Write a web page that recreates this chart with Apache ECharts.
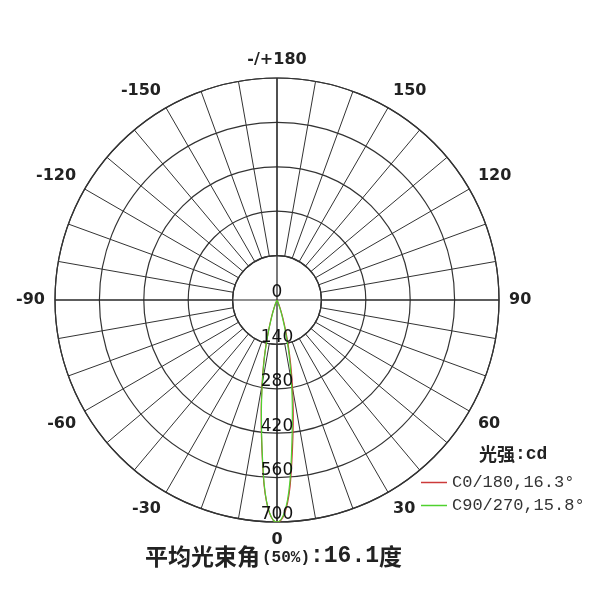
<!DOCTYPE html>
<html><head><meta charset="utf-8">
<script src="https://cdn.jsdelivr.net/npm/echarts@6/dist/echarts.min.js"></script>
<style>html,body{margin:0;padding:0;background:#fff}#c{width:600px;height:600px}</style>
</head><body><div id="c"></div>
<script>
// ---- data ----
const angleTickValues = [-180,-150,-120,-90,-60,-30,0,30,60,90,120,150,180];
const angleTickLabels = ['-/+180','-150','-120','-90','-60','-30','0','30','60','90','120','150','-/+180'];
const radialTicks = [0,140,280,420,560,700];
const gamma = [0,1,2,3,4,5,6,7,8,9,10,11,12,13,14,15,16,18,20,22,25,28];
const c0   = [700,695,675,640,590,527,468,416,368,323,281,243,208,175,145,118,95,60,34,16,4,0];
const c180 = [700,694,673,636,585,520,460,407,358,313,272,234,201,168,138,111,88,54,29,13,3,0];
const c90  = [700,693,670,632,578,512,450,396,348,303,261,224,191,159,129,103,80,47,24,10,2,0];
const c270 = [700,694,671,634,581,516,455,401,353,308,266,229,196,164,134,107,84,50,26,11,2,0];
const seriesNames = ['C0/180,16.3°','C90/270,15.8°'];
const unitLabel = ['光强', ':cd'];
const titleParts = ['平均光束角','(50%)',':16.1','度'];

function buildCurve(pos, neg){
  const out = [];
  for (let i = gamma.length-1; i >= 1; i--) out.push([neg[i], -gamma[i]]);
  for (let i = 0; i < gamma.length; i++) out.push([pos[i], gamma[i]]);
  return out;
}

const chart = echarts.init(document.getElementById('c'), null, {renderer:'canvas'});
const CENTER = [277, 300], R = 222;
const gridColor = '#333';

chart.setOption({
  animation: false,
  backgroundColor: '#fff',
  title: {
    text: `{a|${titleParts[0]}}{b|${titleParts[1]}}{c|${titleParts[2]}}{a|${titleParts[3]}}`,
    left: 140, top: 540,
    textStyle: { rich: {
      a: {fontFamily:'Noto Sans CJK SC', fontSize:23, fontWeight:'bold', color:'#222'},
      b: {fontFamily:'Liberation Mono', fontSize:16, fontWeight:'bold', color:'#222', padding:[3,0,0,2]},
      c: {fontFamily:'Liberation Mono', fontSize:23, fontWeight:'bold', color:'#222'}
    }}
  },
  legend: {
    data: seriesNames, orient: 'vertical', left: 416, top: 469,
    icon: 'rect', itemWidth: 26, itemHeight: 1.5, itemGap: 6,
    textStyle: {fontFamily:'Liberation Mono', fontSize:17, color:'#333'}
  },
  graphic: [{
    type: 'text', left: 479, top: 445,
    style: { text: `{a|${unitLabel[0]}}{b|${unitLabel[1]}}`, rich: {
      a: {fontFamily:'Noto Sans CJK SC', fontSize:18, fontWeight:'bold', fill:'#222'},
      b: {fontFamily:'Liberation Mono', fontSize:18, fontWeight:'bold', fill:'#222'}
    }}
  }],
  polar: [
    {center: CENTER, radius: [R/5, R]},
    {center: CENTER, radius: [0, R]}
  ],
  angleAxis: [{
    polarIndex: 0, type: 'value', min: -180, max: 180, interval: 10,
    startAngle: 90, clockwise: false,
    axisLine: {show: true, lineStyle: {color: gridColor, width: 1.2}},
    axisTick: {show: false},
    axisLabel: {show: true, interval: 0, margin: 10,
      fontFamily: 'DejaVu Sans', fontSize: 16, fontWeight: 'bold', color: '#222',
      formatter: v => { const i = angleTickValues.indexOf(Math.round(v)); return i >= 0 ? angleTickLabels[i] : ''; }},
    splitLine: {show: true, lineStyle: {color: gridColor, width: 1}}
  },{
    polarIndex: 1, type: 'value', min: -180, max: 180, interval: 90,
    startAngle: 90, clockwise: false,
    axisLine: {show: false}, axisTick: {show: false}, axisLabel: {show: false},
    splitLine: {show: true, lineStyle: {color: '#222', width: 1.2}}
  }],
  radiusAxis: [{
    polarIndex: 0, type: 'value', min: radialTicks[1], max: radialTicks[radialTicks.length-1], interval: 140,
    axisLine: {show: false}, axisTick: {show: false}, axisLabel: {show: false},
    splitLine: {show: true, lineStyle: {color: gridColor, width: 1.2}}
  },{
    polarIndex: 1, type: 'value', min: 0, max: radialTicks[radialTicks.length-1],
    axisLine: {show: false}, axisTick: {show: false}, axisLabel: {show: false},
    splitLine: {show: false}
  }],
  series: [{
    name: seriesNames[0], type: 'line', coordinateSystem: 'polar', polarIndex: 1,
    data: buildCurve(c0, c180), symbol: 'none', smooth: 0.3,
    lineStyle: {color: '#cc3a3a', width: 1.2}, itemStyle: {color: '#cc3a3a'}, z: 3
  },{
    name: seriesNames[1], type: 'line', coordinateSystem: 'polar', polarIndex: 1,
    data: buildCurve(c90, c270), symbol: 'none', smooth: 0.3,
    lineStyle: {color: '#4fd12e', width: 1.2}, itemStyle: {color: '#4fd12e'}, z: 4
  },{
    type: 'scatter', coordinateSystem: 'polar', polarIndex: 1, silent: true,
    symbolSize: 0, itemStyle: {color: '#111'},
    data: radialTicks.map(v => [v, 0]),
    label: {show: true, position: 'inside', offset: [0, -7], opacity: 1,
      textBorderWidth: 0,
      formatter: p => String(p.value[0]),
      fontFamily: 'DejaVu Sans', fontSize: 17, color: '#111'},
    z: 5
  }]
});
</script></body></html>
